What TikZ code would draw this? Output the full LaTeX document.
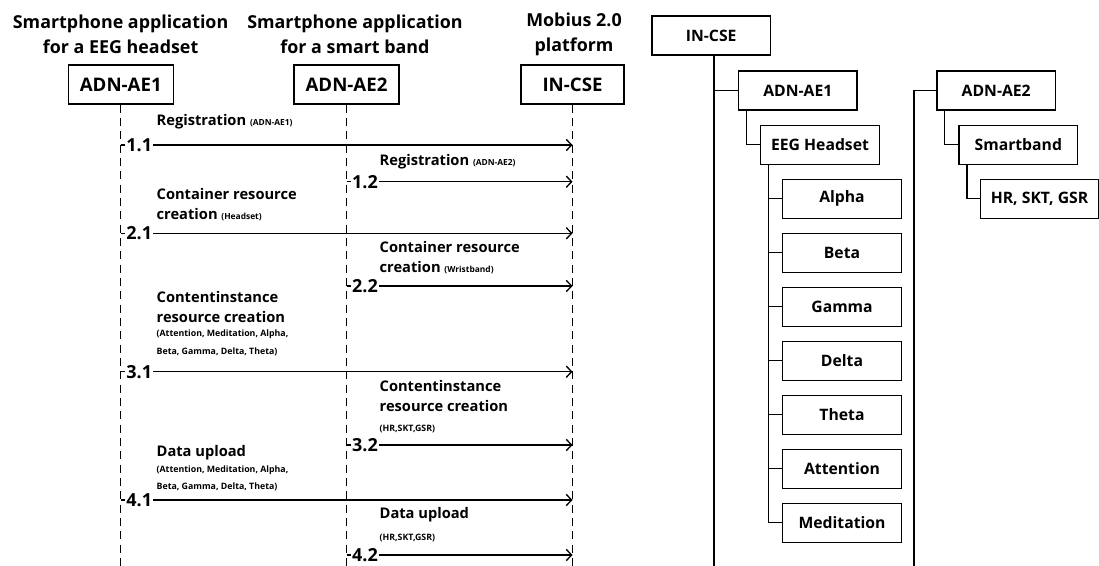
\documentclass[tikz,border=0pt]{standalone}
\usepackage{fontspec}
\setmainfont{Open Sans}
\usetikzlibrary{arrows.meta}

\tikzset{every picture/.style={line width=1pt}}
\newcommand{\smalltxt}[1]{{\fontsize{6.3}{13.2}\selectfont #1}}

\begin{document}
\begin{tikzpicture}[x=0.75pt,y=0.75pt,yscale=-1,xscale=1,
  title/.style={font=\bfseries\fontsize{13.4}{18.75}\selectfont, align=center, inner sep=0.75pt},
  actor/.style={draw, minimum width=78.75pt, minimum height=29.25pt, font=\bfseries\fontsize{14}{15}\selectfont},
  msg/.style={anchor=west, align=left, inner sep=0.75pt, font=\bfseries\fontsize{11}{15}\selectfont},
  note/.style={anchor=west, align=left, inner sep=0.75pt, font=\bfseries\fontsize{6.6}{13.2}\selectfont},
  stepnum/.style={anchor=west, fill=white, inner sep=0.75pt, font=\bfseries\fontsize{13.5}{16}\selectfont},
  lifeline/.style={dash pattern=on 6pt off 4pt},
  call/.style={-{Straight Barb[length=4pt,width=8.5pt]}},
  tbox/.style={draw, minimum width=89pt, minimum height=29.25pt, font=\bfseries\fontsize{11.8}{13}\selectfont}]
\useasboundingbox (0,0) rectangle (1099,566);

% Text Node
\node[title] (tAE1) at (120.6,34.5) {Smartphone application\\for a EEG headset};
% Text Node
\node[title] (tAE2) at (355,34.5) {Smartphone application\\for a smart band};
% Text Node
\node[title] (tCSE) at (574,34.5) {Mobius 2.0\\platform};

%Shape: Rectangle
\node[actor] (AE1) at (120.8,84.5) {ADN-AE1};
%Shape: Rectangle
\node[actor] (AE2) at (346.5,84.5) {ADN-AE2};
%Shape: Rectangle
\node[actor, minimum width=77.25pt] (CSE) at (572.5,84.5) {IN-CSE};

%Dashed Lines
\coordinate (base) at (0,566);
\draw[lifeline] (AE1.south) -- (AE1.south |- base);
\draw[lifeline] (AE2.south) -- (AE2.south |- base);
\draw[lifeline] (CSE.south) -- (CSE.south |- base);

%Straight Lines
\coordinate (y11) at (0,145);
\coordinate (y12) at (0,181.7);
\coordinate (y21) at (0,233.3);
\coordinate (y22) at (0,286);
\coordinate (y31) at (0,371.7);
\coordinate (y32) at (0,445);
\coordinate (y41) at (0,500);
\coordinate (y42) at (0,555);
\draw[call] (AE1 |- y11) -- (CSE |- y11);
\draw[call] (AE2 |- y12) -- (CSE |- y12);
\draw[call] (AE1 |- y21) -- (CSE |- y21);
\draw[call] (AE2 |- y22) -- (CSE |- y22);
\draw[call] (AE1 |- y31) -- (CSE |- y31);
\draw[call] (AE2 |- y32) -- (CSE |- y32);
\draw[call] (AE1 |- y41) -- (CSE |- y41);
\draw[call] (AE2 |- y42) -- (CSE |- y42);

% Text Node
\node[stepnum, xshift=3pt] (n11) at (AE1 |- y11) {1.1};
\node[stepnum, xshift=3pt] (n12) at (AE2 |- y12) {1.2};
\node[stepnum, xshift=3pt] (n21) at (AE1 |- y21) {2.1};
\node[stepnum, xshift=3pt] (n22) at (AE2 |- y22) {2.2};
\node[stepnum, xshift=3pt] (n31) at (AE1 |- y31) {3.1};
\node[stepnum, xshift=3pt] (n32) at (AE2 |- y32) {3.2};
\node[stepnum, xshift=3pt] (n41) at (AE1 |- y41) {4.1};
\node[stepnum, xshift=3pt] (n42) at (AE2 |- y42) {4.2};

% Text Node
\node[msg] (l11) at (155,121.7) {Registration \smalltxt{(ADN-AE1)}};
% Text Node
\node[msg] (l12) at (378,161.7) {Registration \smalltxt{(ADN-AE2)}};
% Text Node
\node[msg] (l21) at (155,205) {Container resource\\creation \smalltxt{(Headset)}};
% Text Node
\node[msg] (l22) at (378,257.8) {Container resource\\creation \smalltxt{(Wristband)}};
% Text Node
\node[msg] (l31) at (155,306.7) {Contentinstance\\resource creation};
\node[note] (s31) at (155,343) {(Attention, Meditation, Alpha,\\Beta, Gamma, Delta, Theta)};
% Text Node
\node[msg] (l32) at (378,395.8) {Contentinstance\\resource creation};
\node[note] (s32) at (378,429.3) {(HR,SKT,GSR)};
% Text Node
\node[msg] (l41) at (155,452.3) {Data upload};
\node[note] (s41) at (155,478.3) {(Attention, Meditation, Alpha,\\Beta, Gamma, Delta, Theta)};
% Text Node
\node[msg] (l42) at (378,515) {Data upload};
\node[note] (s42) at (378,538.3) {(HR,SKT,GSR)};

%Shape: Rectangle
\node[tbox] (rCSE) at (711.2,35.5) {IN-CSE};
\node[tbox] (rAE1) at (797.8,90.5) {ADN-AE1};
\node[tbox] (rEEG) at (820,144.7) {EEG Headset};
\node[tbox] (rAlpha) at (842,198.8) {Alpha};
\node[tbox] (rBeta) at (842,252.8) {Beta};
\node[tbox] (rGamma) at (842,306.8) {Gamma};
\node[tbox] (rDelta) at (842,360.8) {Delta};
\node[tbox] (rTheta) at (842,414.8) {Theta};
\node[tbox] (rAtt) at (842,468.8) {Attention};
\node[tbox] (rMed) at (842,522.8) {Meditation};
\node[tbox] (rAE2) at (996.2,90.5) {ADN-AE2};
\node[tbox] (rBand) at (1018.3,144.7) {Smartband};
\node[tbox] (rHR) at (1039.5,198.8) {HR, SKT, GSR};

%Straight Lines
\coordinate (trunkA) at (714,566);
\coordinate (trunkB) at (914,566);
\draw (rCSE.south -| trunkA) -- (trunkA);
\draw (rAE1.west -| trunkA) -- (rAE1.west);
\draw (rAE2.west) -| (trunkB);
\draw[gray!35] ([yshift=0.75pt]trunkA) -- ([yshift=0.75pt]trunkB);
\draw ([xshift=6.4pt]rAE1.south west) |- (rEEG.west);
\draw ([xshift=6.4pt]rAE2.south west) |- (rBand.west);
\draw ([xshift=6.4pt]rBand.south west) |- (rHR.west);
\coordinate (eegT) at ([xshift=6.4pt]rEEG.south west);
\draw (eegT) |- (rMed.west);
\draw (eegT |- rAlpha.west) -- (rAlpha.west);
\draw (eegT |- rBeta.west) -- (rBeta.west);
\draw (eegT |- rGamma.west) -- (rGamma.west);
\draw (eegT |- rDelta.west) -- (rDelta.west);
\draw (eegT |- rTheta.west) -- (rTheta.west);
\draw (eegT |- rAtt.west) -- (rAtt.west);

\end{tikzpicture}
\end{document}
